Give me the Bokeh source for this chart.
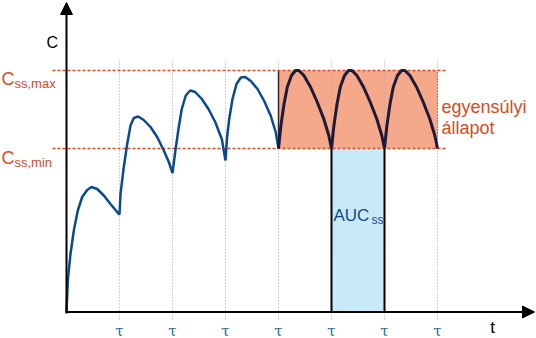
from bokeh.plotting import figure
from bokeh.models import Range1d, Arrow, NormalHead, Label
from bokeh.embed import file_html
from bokeh.resources import INLINE
from bokeh.core.properties import value

# ---- data (time in units of tau, concentration in arbitrary units) ----
t_rise = [0.0, 0.025, 0.075, 0.138, 0.213, 0.296, 0.39, 0.472, 0.579, 0.704, 0.83, 0.987, 1.0,
          1.019, 1.081, 1.145, 1.208, 1.27, 1.353, 1.458, 1.585, 1.711, 1.836, 1.93, 2.0,
          2.051, 2.113, 2.175, 2.251, 2.334, 2.428, 2.553, 2.679, 2.806, 2.93, 3.0,
          3.03, 3.07, 3.132, 3.208, 3.289, 3.372, 3.477, 3.604, 3.73, 3.855, 3.949, 4.0]
c_rise = [0.0, 31.5, 58, 81.5, 101.5, 115, 122, 125, 123, 116.5, 108, 98, 97.5,
          118, 145, 168, 186.5, 194, 195.5, 192, 185, 175, 161.5, 150, 139,
          160, 183, 203, 216.5, 221.5, 220, 213, 203, 190, 173, 151.5,
          175, 193, 213, 228, 234.5, 235, 231, 223, 211, 196, 179.5, 163.5]

t_ss = [4.0, 4.042, 4.104, 4.166, 4.245, 4.321, 4.385, 4.479, 4.604, 4.73, 4.855, 4.949, 5.0,
        5.042, 5.104, 5.166, 5.245, 5.321, 5.385, 5.479, 5.604, 5.73, 5.855, 5.949, 6.0,
        6.042, 6.104, 6.166, 6.245, 6.321, 6.385, 6.479, 6.604, 6.73, 6.855, 6.949, 7.0]
c_ss = [163.5, 185, 208, 225, 236.5, 241.5, 241.5, 236.5, 225, 210, 193, 176.5, 163.5,
        185, 208, 225, 236.5, 241.5, 241.5, 236.5, 225, 210, 193, 176.5, 163.5,
        185, 208, 225, 236.5, 241.5, 241.5, 236.5, 225, 210, 193, 176.5, 163.5]

tau_ticks = [1, 2, 3, 4, 5, 6, 7]
tau_labels = ["τ", "τ", "τ", "τ", "τ", "τ", "τ"]
axis_x_label = "t"
axis_y_label = "C"
css_max = 241.5
css_min = 163.5
ss_start, ss_end = 4, 7
auc_start, auc_end = 5, 6

# ---- pixel helpers for layout ----
PX_X0 = 66.0
PX_TAU = 53.0
PX_Y0 = 311.5


def fx(px):
    return (px - PX_X0) / PX_TAU


def fy(py):
    return PX_Y0 - py


p = figure(width=536, height=338,
           x_range=Range1d(fx(0), fx(536)), y_range=Range1d(fy(338), fy(0)),
           x_axis_type=None, y_axis_type=None,
           toolbar_location=None, output_backend="svg",
           min_border=0, outline_line_color=None,
           background_fill_color="white", border_fill_color="white")

ORANGE = "#dc4a1c"

# shaded regions
p.quad(left=[ss_start], right=[ss_end], bottom=[css_min], top=[css_max],
       fill_color="#f5a88a", line_color=None)
p.quad(left=[auc_start], right=[auc_end], bottom=[0], top=[css_min],
       fill_color="#c8eaf8", line_color=None)

# tau dotted guide lines
p.segment(x0=tau_ticks, y0=[fy(319)] * len(tau_ticks), x1=tau_ticks, y1=[fy(60)] * len(tau_ticks),
          line_color="#a8a8a8", line_dash="1 2", line_width=1)

# edges of steady-state box
p.segment(x0=[ss_start], y0=[css_min], x1=[ss_start], y1=[css_max], line_color="#3a2626", line_width=1.5)
p.segment(x0=[ss_end], y0=[css_min], x1=[ss_end], y1=[css_max], line_color="#6a4a40",
          line_width=1.2, line_dash="1 2")

# Css lines
p.segment(x0=[fx(52), fx(52)], y0=[css_max, css_min], x1=[fx(446), fx(446)], y1=[css_max, css_min],
          line_color=ORANGE, line_dash="3 2", line_width=1.5)

# AUC edges
p.segment(x0=[auc_start, auc_end], y0=[0, 0], x1=[auc_start, auc_end], y1=[css_min, css_min],
          line_color="black", line_width=2)

# curves
p.line(t_rise, c_rise, line_color="#0b4a8c", line_width=2.5)
p.line(t_ss, c_ss, line_color="#1e1a3a", line_width=3)

# axes with arrows
p.add_layout(Arrow(end=NormalHead(size=12, fill_color="black", line_color="black"),
                   x_start=0, y_start=fy(313), x_end=0, y_end=fy(2),
                   line_color="black", line_width=2))
p.add_layout(Arrow(end=NormalHead(size=12, fill_color="black", line_color="black"),
                   x_start=fx(65), y_start=0, x_end=fx(534), y_end=0,
                   line_color="black", line_width=2))

# tau labels
p.text(x=tau_ticks, y=[fy(330)] * len(tau_ticks), text=tau_labels,
       text_font=value("DejaVu Serif"), text_font_size="15px", text_color="#2a6a9c",
       text_align="center", text_baseline="middle")

# axis name "t"
p.text(x=[fx(492)], y=[fy(327)], text=[axis_x_label],
       text_font=value("Liberation Sans"), text_font_size="17px", text_color="black",
       text_align="center", text_baseline="middle")

FONT = "Liberation Sans"


def lab(px, py, txt, size, color, **kw):
    p.add_layout(Label(x=fx(px), y=fy(py), text=txt, text_font=FONT, text_font_size=size,
                       text_color=color, text_baseline="alphabetic", **kw))


lab(46, 42, axis_y_label, "16px", "black")

lab(1, 78, "C", "18px", ORANGE)
lab(14, 83, "ss,max", "13px", ORANGE)
lab(1, 157, "C", "18px", ORANGE)
lab(14, 162, "ss,min", "13px", ORANGE)

lab(441, 106, "egyensúlyi", "18px", ORANGE)
lab(441, 127, "állapot", "18px", ORANGE)

lab(333, 215, "AUC", "17px", "#0e4a8a")
lab(371, 219, "ss", "12px", "#0e4a8a")

open("out.html", "w").write(file_html(p, INLINE))
